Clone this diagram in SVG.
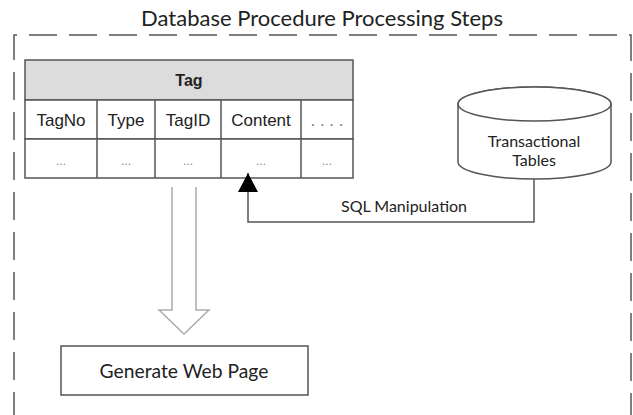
<svg xmlns="http://www.w3.org/2000/svg" width="633" height="415" viewBox="0 0 633 415">
  <style>
    .frame { fill: none; stroke: #555; stroke-width: 1.5; stroke-dasharray: 28 12; }
    .title { font-family: Lato, "Open Sans", sans-serif; font-size: 22px; fill: #222; text-anchor: middle; }
    .label { font-family: Lato, "Open Sans", sans-serif; font-size: 16px; fill: #222; text-anchor: middle; }
    .cell { fill: #fff; stroke: #555; stroke-width: 1.5; }
    .head { fill: #dcdcdc; stroke: #555; stroke-width: 1.5; }
    .col { font-family: "Liberation Sans", Arial, sans-serif; font-size: 17px; fill: #222; text-anchor: middle; }
    .colhead { font-family: "Liberation Sans", Arial, sans-serif; font-size: 16px; font-weight: bold; fill: #222; text-anchor: middle; }
    .dots { font-family: "Liberation Sans", Arial, sans-serif; font-size: 12px; fill: #888; text-anchor: middle; }
    .wire { fill: none; stroke: #555; stroke-width: 1.5; }
    .shape { fill: #fff; stroke: #555; stroke-width: 1.5; }
    .hollow { fill: #fff; stroke: #aaa; stroke-width: 1.5; }
  </style>
  <defs>
    <marker id="arrowhead" markerUnits="userSpaceOnUse" markerWidth="19" markerHeight="20" viewBox="0 0 19 20" refX="19" refY="10" orient="auto">
      <path d="M0,0 L19,10 L0,20 z" fill="#000"/>
    </marker>
  </defs>

  <!-- Outer dashed boundary (open at the bottom edge) -->
  <g id="frame">
    <path class="frame" d="M14,420 V35 H631 V420"/>
    <text class="title" x="322" y="26">Database Procedure Processing Steps</text>
  </g>

  <!-- Tag table -->
  <g id="tag-table">
    <rect class="head" x="25" y="60" width="328" height="40"/>
    <text class="colhead" x="189" y="86">Tag</text>
    <rect class="cell" x="25" y="100" width="328" height="39"/>
    <rect class="cell" x="25" y="139" width="328" height="39"/>
    <line class="wire" x1="97" y1="100" x2="97" y2="178"/>
    <line class="wire" x1="155" y1="100" x2="155" y2="178"/>
    <line class="wire" x1="221" y1="100" x2="221" y2="178"/>
    <line class="wire" x1="301" y1="100" x2="301" y2="178"/>
    <text class="col" x="61" y="126">TagNo</text>
    <text class="col" x="126" y="126">Type</text>
    <text class="col" x="188" y="126">TagID</text>
    <text class="col" x="261" y="126">Content</text>
    <text class="col" x="327" y="126" style="fill:#777">. . . .</text>
    <text class="dots" x="61" y="165">...</text>
    <text class="dots" x="126" y="165">...</text>
    <text class="dots" x="188" y="165">...</text>
    <text class="dots" x="261" y="165">...</text>
    <text class="dots" x="327" y="165">...</text>
  </g>

  <!-- Transactional tables cylinder -->
  <g id="transactional-tables">
    <path class="shape" d="M458,104 V162 A76.5,17 0 0 0 611,162 V104 A76.5,17 0 0 0 458,104 Z"/>
    <ellipse class="shape" cx="534.5" cy="104" rx="76.5" ry="17"/>
    <text class="label" x="534" y="147">Transactional</text>
    <text class="label" x="534" y="166">Tables</text>
  </g>

  <!-- Generate web page step -->
  <g id="generate-web-page">
    <rect class="shape" x="61" y="346" width="247" height="49"/>
    <text class="label" x="184" y="378" style="font-size:19.3px">Generate Web Page</text>
  </g>

  <!-- Connectors -->
  <g id="connectors">
    <path class="wire" d="M534,179 V222 H248 V173" marker-end="url(#arrowhead)"/>
    <text class="label" x="404" y="212">SQL Manipulation</text>
    <path class="hollow" d="M172,187 V310 H159 L184,334 L209,310 H196 V187"/>
  </g>
</svg>
